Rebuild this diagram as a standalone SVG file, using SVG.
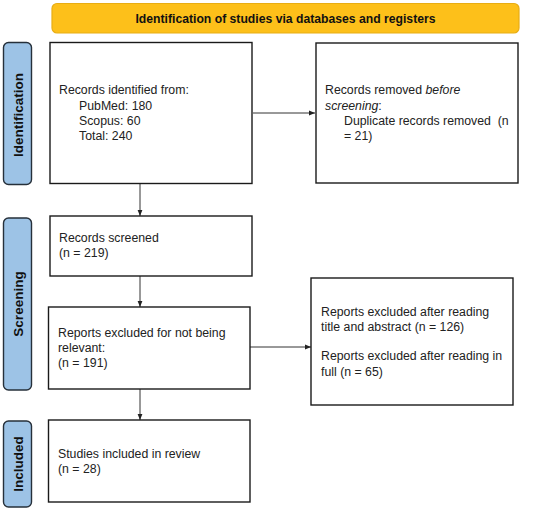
<svg xmlns="http://www.w3.org/2000/svg" width="550" height="513" viewBox="0 0 550 513">
<style>
.box{fill:#fff;stroke:#1a1a1a;stroke-width:1.4}
.bar{fill:#9dc3e6;stroke:#26303a;stroke-width:1.4}
.t{font-family:"Liberation Sans",Arial,sans-serif;font-size:12.3px;fill:#222}
.bt{font-family:"Liberation Sans",Arial,sans-serif;font-size:12.2px;font-weight:bold;fill:#111;text-anchor:middle}
.vt{font-family:"Liberation Sans",Arial,sans-serif;font-size:13.5px;font-weight:bold;fill:#111;text-anchor:middle}
.c{stroke:#333;stroke-width:1;fill:none;marker-end:url(#ah)}
</style>
<defs>
<marker id="ah" viewBox="0 0 10 10" refX="10" refY="5" markerWidth="6" markerHeight="6" markerUnits="userSpaceOnUse" orient="auto">
<path d="M0,1 L10,5 L0,9 z" fill="#222"/>
</marker>
</defs>
<g id="banner">
<rect x="52" y="3.5" width="467" height="29.5" rx="5" fill="#fdc01a" stroke="#e8ad14" stroke-width="1.2"/>
<text class="bt" x="285.5" y="23">Identification of studies via databases and registers</text>
</g>
<g id="bar-identification">
<rect class="bar" x="3.5" y="42.5" width="28" height="142" rx="5"/>
<text class="vt" transform="translate(22.5,115) rotate(-90)">Identification</text>
</g>
<g id="bar-screening">
<rect class="bar" x="3.5" y="218" width="28" height="172" rx="5"/>
<text class="vt" transform="translate(22.5,304) rotate(-90)">Screening</text>
</g>
<g id="bar-included">
<rect class="bar" x="3.5" y="421" width="28" height="86" rx="5"/>
<text class="vt" transform="translate(22.5,464) rotate(-90)">Included</text>
</g>
<g id="connectors">
<line class="c" x1="140" y1="184" x2="140" y2="216"/>
<line class="c" x1="253" y1="113" x2="315" y2="113"/>
<line class="c" x1="140" y1="276" x2="140" y2="307"/>
<line class="c" x1="250" y1="347" x2="311" y2="347"/>
<line class="c" x1="140" y1="389" x2="140" y2="420"/>
</g>
<g id="records-identified">
<rect class="box" x="50" y="42.5" width="202" height="141"/>
<text class="t" x="59" y="94">Records identified from:</text>
<text class="t" x="79" y="110">PubMed: 180</text>
<text class="t" x="79" y="125">Scopus: 60</text>
<text class="t" x="79" y="140">Total: 240</text>
</g>
<g id="records-removed">
<rect class="box" x="316" y="43" width="202" height="140"/>
<text class="t" x="325" y="94">Records removed <tspan font-style="italic">before</tspan></text>
<text class="t" x="325" y="110"><tspan font-style="italic">screening</tspan>:</text>
<text class="t" x="344" y="125" xml:space="preserve">Duplicate records removed  (n</text>
<text class="t" x="344" y="140">= 21)</text>
</g>
<g id="records-screened">
<rect class="box" x="50" y="216" width="202" height="60"/>
<text class="t" x="59" y="242">Records screened</text>
<text class="t" x="59" y="257">(n = 219)</text>
</g>
<g id="reports-excluded-relevant">
<rect class="box" x="48.5" y="307" width="201.5" height="82"/>
<text class="t" x="58" y="337">Reports excluded for not being</text>
<text class="t" x="58" y="352">relevant:</text>
<text class="t" x="58" y="367">(n = 191)</text>
</g>
<g id="reports-excluded-reading">
<rect class="box" x="311" y="278" width="202" height="127"/>
<text class="t" x="321" y="316">Reports excluded after reading</text>
<text class="t" x="321" y="331">title and abstract (n = 126)</text>
<text class="t" x="321" y="360">Reports excluded after reading in</text>
<text class="t" x="321" y="376">full (n = 65)</text>
</g>
<g id="studies-included">
<rect class="box" x="48.5" y="420" width="201.5" height="82"/>
<text class="t" x="58" y="458">Studies included in review</text>
<text class="t" x="58" y="473">(n = 28)</text>
</g>
</svg>
